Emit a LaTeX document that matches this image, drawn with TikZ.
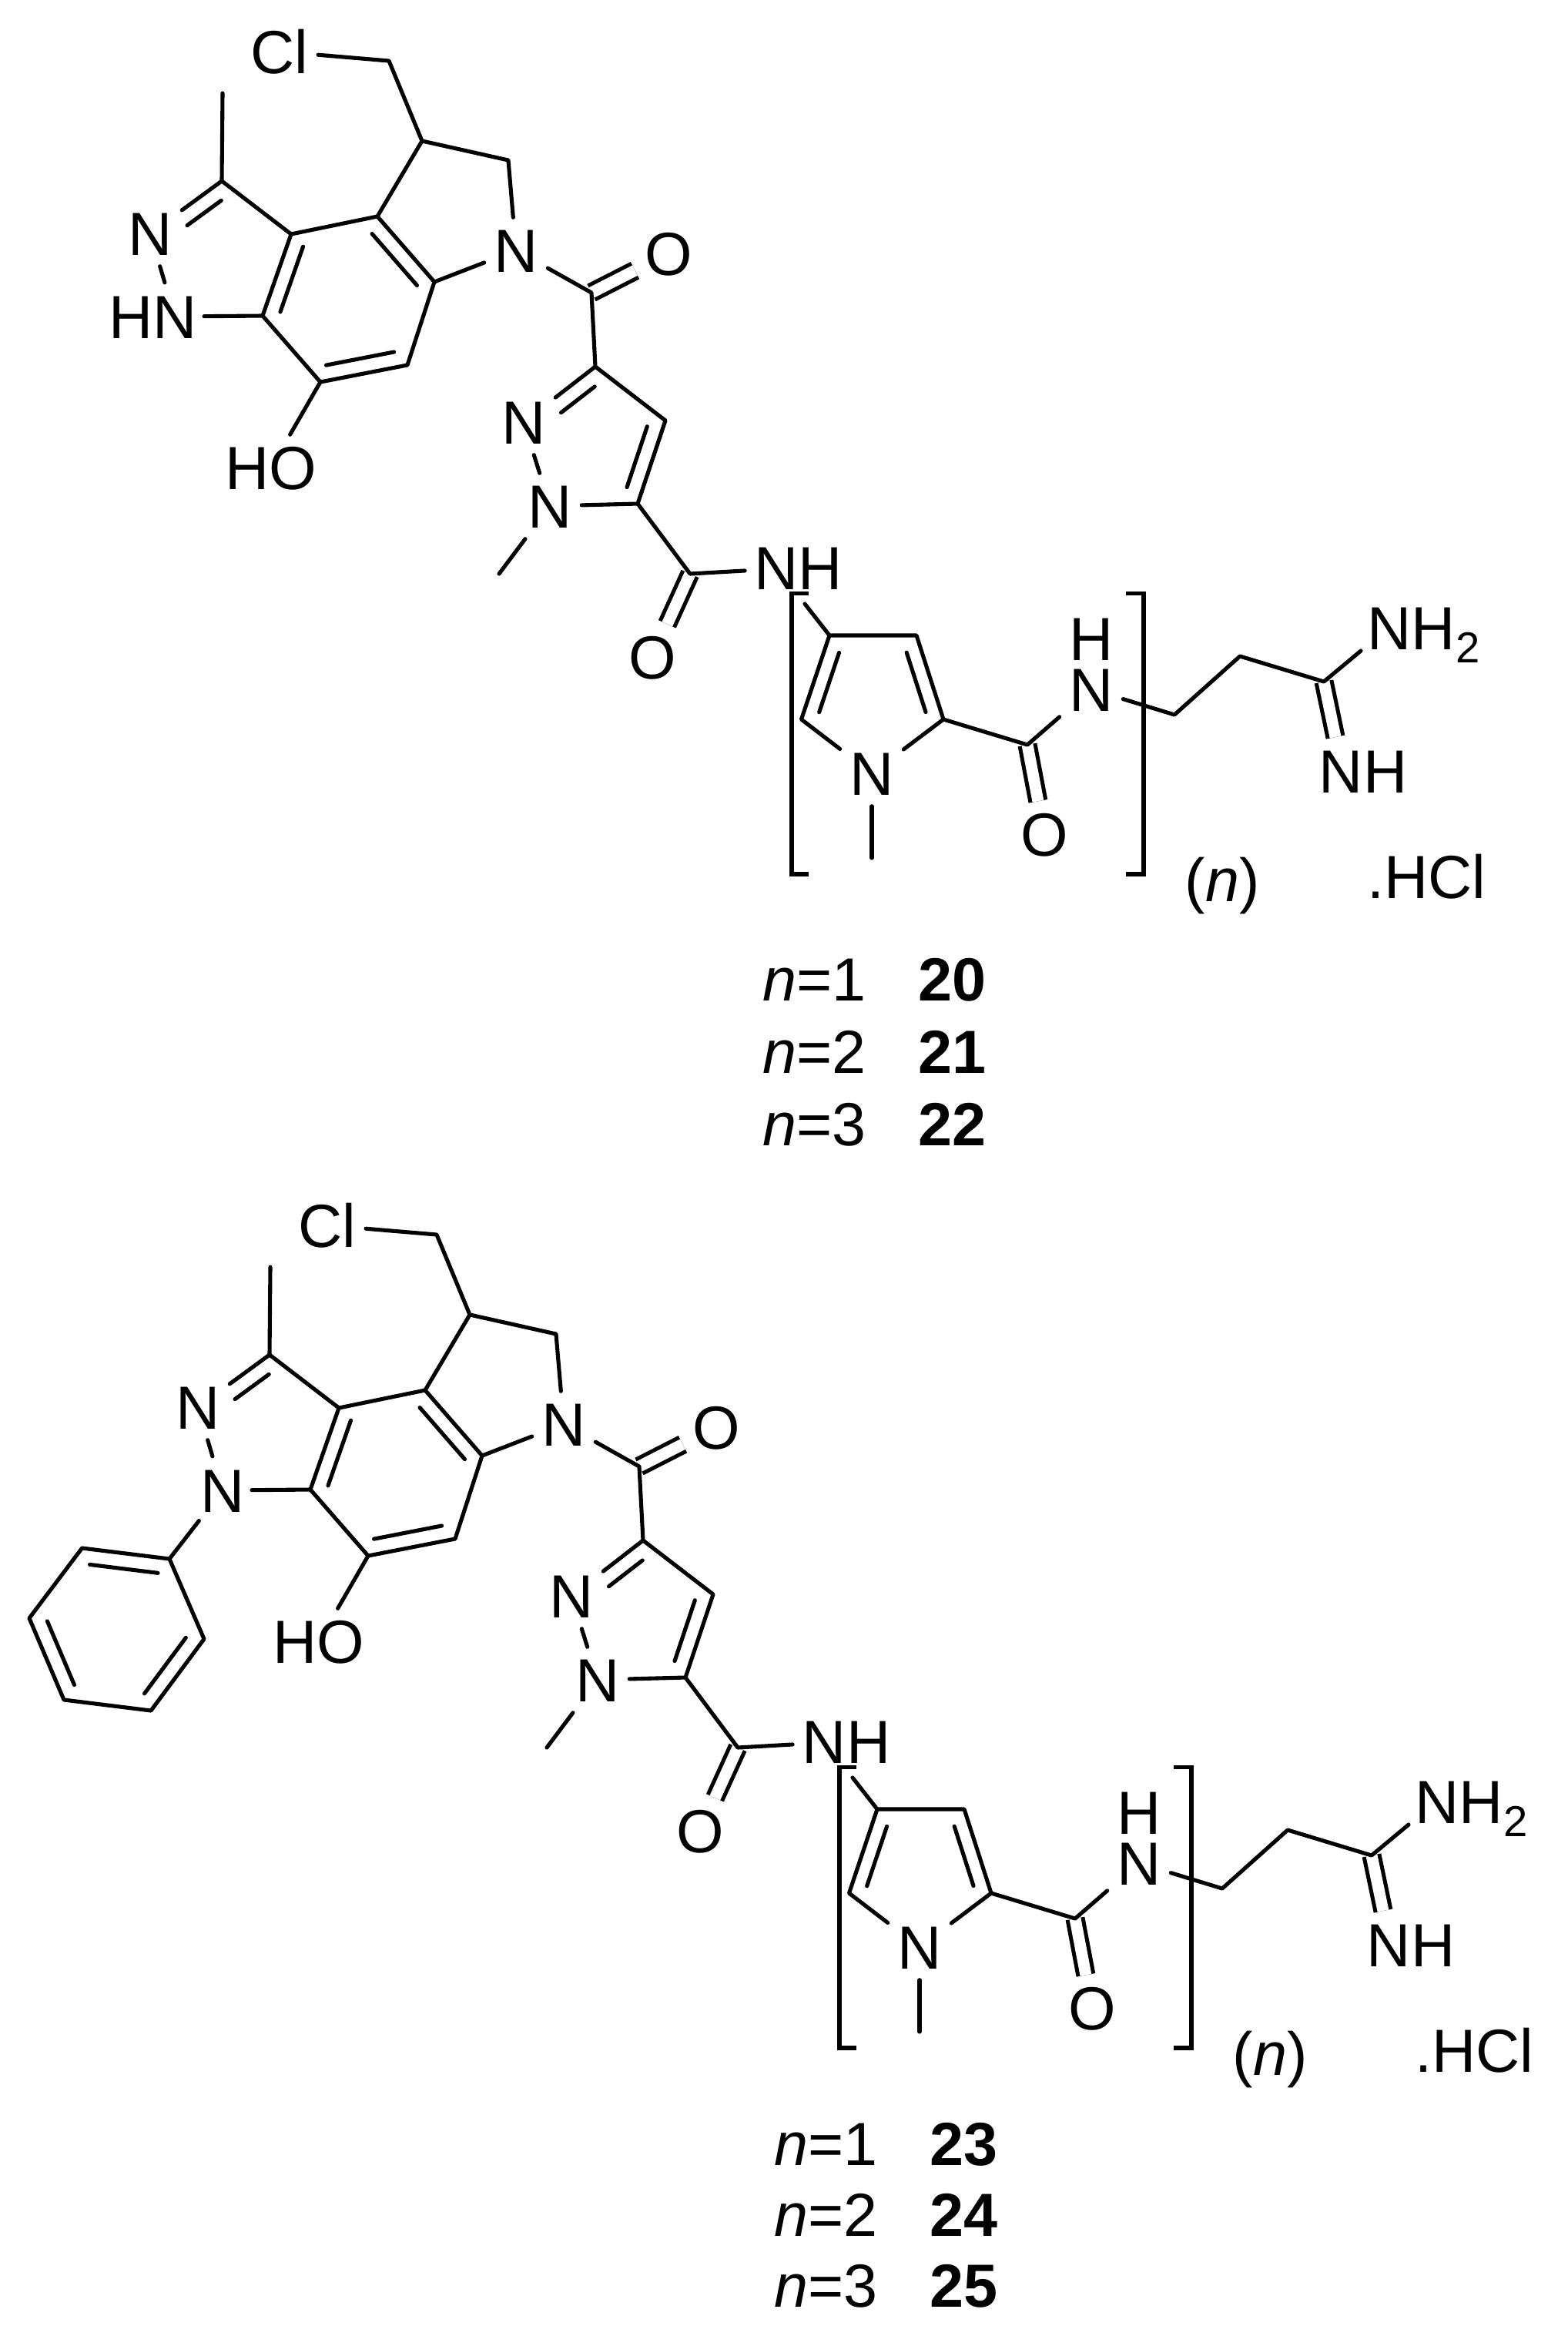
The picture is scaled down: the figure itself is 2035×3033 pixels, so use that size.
\documentclass[tikz,border=0pt]{standalone}
\usepackage{fontspec}
\setmainfont{Liberation Sans}
\usetikzlibrary{calc}
\tikzset{
  bond/.style={line width=1.45pt,line cap=round,line join=round},
  dbond/.style={line width=1.45pt,double,double distance=.149cm,line cap=butt},
  atom/.style={font=\fontsize{22.5}{24}\selectfont,text height=.56cm,text depth=0pt,inner xsep=.12cm,inner ysep=.14cm},
  rowtext/.style={font=\fontsize{22.5}{24}\selectfont,text height=.56cm,text depth=0pt,inner sep=0pt,anchor=west},
}
% inner line of a double bond: from, to, side offset, start and end fraction
\newcommand{\inbond}[5]{\draw[bond] ($(#1)!#4!(#2)!#3!90:(#2)$) -- ($(#1)!#5!(#2)!#3!90:(#2)$);}
\newcommand{\subtwo}{\raisebox{-.22em}{\fontsize{16}{16}\selectfont 2}}
\begin{document}
\begin{tikzpicture}[x=.01cm,y=-.01cm]
  \useasboundingbox (0,0) rectangle (2035,3033);
  \foreach \p/\sx/\sy/\hn in {a/0/0/HN,b/62/1524/N}{
    \begin{scope}[shift={(\sx,\sy)},name prefix=\p-]
      \foreach \nm/\xx/\yy in {ch2/505/79,ch/548/183,ch2b/660/208,c3/490/281,c4/564/366,c2/378/304,c1/288/235,
        me/289/121,c6/341/410,c7/416/496,c8/529/474,nc/227/411,cc/768/380,pc3/773/476,pc4/864/546,pc5/828/654,
        pme/648/745,ac/896/745,rend/1045/784,r4/1077/825,r3/1190/825,r2/1225/934,r5/1040.5/934,rme/1132/1114,
        rc/1334/967,t1/1525/928,t2/1610/852,t3/1719/885,nhe/1767/845,nie/1734/957}
        \coordinate (\nm) at (\xx,\yy);
      % atom labels
      \node[atom] (cl) at (363,67) {Cl};
      \node[atom] (n5) at (670,325) {N};
      \node[atom] (na) at (195,303) {N};
      \node[atom,anchor=east] (nb) at (268,411) {\hn};
      \node[atom] (oh) at (352,607) {HO};
      \node[atom] (o1) at (868,329) {O};
      \node[atom] (pn2) at (680,548) {N};
      \node[atom] (pn1) at (714,657) {N};
      \node[atom] (nh1) at (1037,737) {NH};
      \node[atom] (o2) at (847,853) {O};
      \node[atom] (rn) at (1132,1004) {N};
      \node[atom] (o3) at (1356,1083) {O};
      \node[atom] (hh) at (1417,829) {H};
      \node[atom] (hn) at (1417,895) {N};
      \node[atom,anchor=west] (nh2) at (1763,815) {NH\subtwo};
      \node[atom] (nh3) at (1770,1001) {NH};
      \node[atom] (par) at (1587,1142) {(\textit{n})};
      \node[atom] (hcl) at (1852,1138) {.HCl};
      % C=O and C=N first, the other bonds go over their ends
      \draw[dbond] (cc) -- (o1);
      \draw[dbond] (ac) -- (o2);
      \draw[dbond] (rc) -- (o3);
      \draw[dbond] (t3) -- (nie);
      % fused rings
      \draw[bond] (cl) -- (ch2) -- (ch) -- (ch2b) -- (n5);
      \draw[bond] (ch) -- (c3) -- (c4) -- (n5);
      \draw[bond] (c3) -- (c2) -- (c1) -- (me);
      \draw[bond] (c1) -- (na);
      \draw[bond] (c2) -- (c6) -- (c7) -- (c8) -- (c4);
      \draw[bond,shorten >=.38cm] (c6) -- (nc);
      \draw[bond,shorten >=.46cm] (na) -- (nc);
      \draw[bond] (c7) -- (oh);
      \inbond{c2}{c6}{.2cm}{.09}{.89}
      \inbond{c3}{c4}{-.2cm}{.11}{.9}
      \inbond{c7}{c8}{.2cm}{.1}{.88}
      \inbond{c1}{na}{.2cm}{.135}{.61}
      % pyrazole
      \draw[bond] (n5) -- (cc) -- (pc3) -- (pc4) -- (pc5) -- (pn1) -- (pn2) -- (pc3);
      \draw[bond] (pn1) -- (pme);
      \draw[bond] (pc5) -- (ac) -- (nh1);
      \inbond{pc4}{pc5}{-.2cm}{.13}{.86}
      \inbond{pc3}{pn2}{.2cm}{.14}{.61}
      % pyrrole
      \draw[bond] (rend) -- (r4) -- (r3) -- (r2) -- (rn) -- (r5) -- (r4);
      \draw[bond] (rn) -- (rme);
      \draw[bond] (r2) -- (rc) -- (hn) -- (t1) -- (t2) -- (t3) -- (nhe);
      \inbond{r4}{r5}{.19cm}{.15}{.86}
      \inbond{r3}{r2}{-.19cm}{.15}{.86}
      % brackets
      \draw[bond,line cap=butt,line join=miter] (1050,770.5) -- (1028,770.5) -- (1028,1135) -- (1050,1135);
      \draw[bond,line cap=butt,line join=miter] (1462,770.5) -- (1485,770.5) -- (1485,1135) -- (1462,1135);
    \end{scope}
  }
  % phenyl on the lower one
  \foreach \nm/\xx/\yy in {ph0/220/2024,ph1/106.5/2010,ph2/38/2101,ph3/83/2207,ph4/196/2221,ph5/265/2128}
    \coordinate (\nm) at (\xx,\yy);
  \draw[bond,shorten <=.5cm] (b-nc) -- (ph0);
  \draw[bond] (ph0) -- (ph1) -- (ph2) -- (ph3) -- (ph4) -- (ph5) -- cycle;
  \inbond{ph1}{ph0}{-.2cm}{.11}{.89}
  \inbond{ph2}{ph3}{.2cm}{.11}{.89}
  \inbond{ph5}{ph4}{-.2cm}{.11}{.89}
  % series
  \foreach \nm/\xa/\xb/\yy/\m/\lab in {ra/990/1192/1271/1/20,rb/990/1192/1365/2/21,rc/990/1192/1459/3/22,
    rd/1005/1207/2783/1/23,re/1005/1207/2875/2/24,rf/1005/1207/2967/3/25}{
    \node[rowtext] (\nm) at (\xa,\yy) {\textit{n}=\m};
    \node[rowtext] (\nm b) at (\xb,\yy) {\textbf{\lab}};
  }
\end{tikzpicture}
\end{document}
